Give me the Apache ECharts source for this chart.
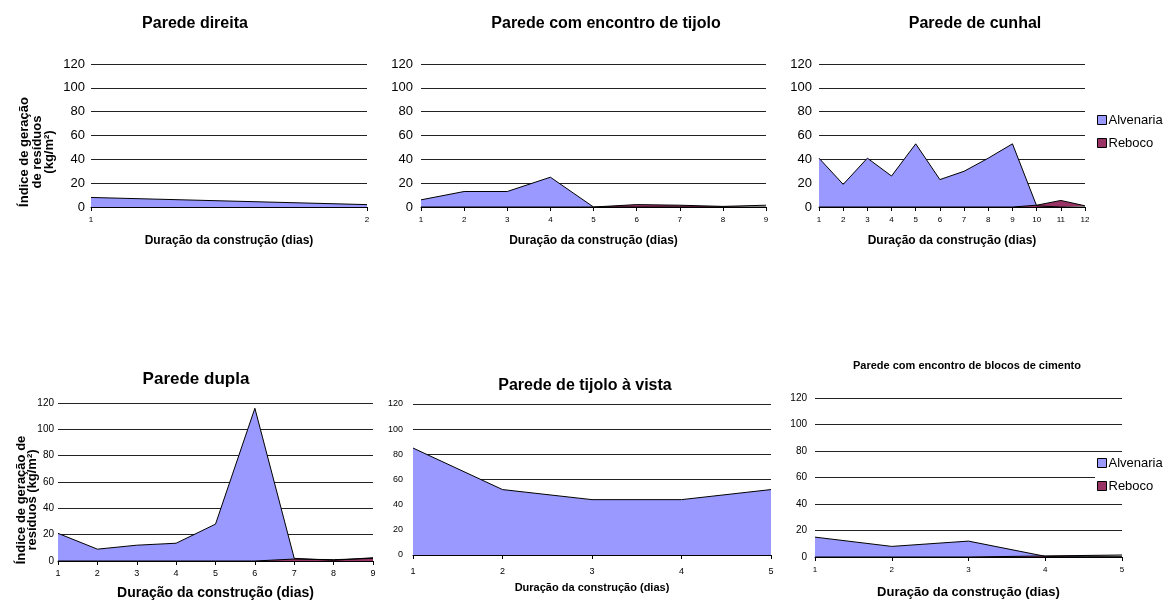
<!DOCTYPE html>
<html>
<head>
<meta charset="utf-8">
<script src="https://cdn.jsdelivr.net/npm/echarts@6/dist/echarts.min.js"></script>
<style>
  html, body { margin: 0; padding: 0; background: #fff; }
  #chart { width: 1170px; height: 603px; }
</style>
</head>
<body>
<div id="chart"></div>
<script>
// valores (kg/m2 por dia)
const diasDireita = ['1', '2'];
const alvDireita = [8, 2];

const diasTijolo = ['1', '2', '3', '4', '5', '6', '7', '8', '9'];
const alvTijolo = [6, 13, 13, 25, 0, 0, 0, 0, 0];
const rebTijolo = [0, 0, 0, 0, 0, 2, 1.5, 0.5, 1.5];

const diasCunhal = ['1', '2', '3', '4', '5', '6', '7', '8', '9', '10', '11', '12'];
const alvCunhal = [41, 19, 41, 26, 53, 23, 30, 41, 53, 1, 0, 0];
const rebCunhal = [0, 0, 0, 0, 0, 0, 0, 0, 0, 1.5, 5.5, 1];

const diasDupla = ['1', '2', '3', '4', '5', '6', '7', '8', '9'];
const alvDupla = [21, 9, 12, 13.5, 28, 116, 2, 0.5, 2.5];
const rebDupla = [0, 0, 0, 0, 0, 0, 1.5, 1, 2];

const diasVista = ['1', '2', '3', '4', '5'];
const alvVista = [85, 52, 44, 44, 52];

const diasBlocos = ['1', '2', '3', '4', '5'];
const alvBlocos = [15, 8, 12, 0.5, 0.5];
const rebBlocos = [0, 0, 0, 0.8, 1.5];

const nomesSeries = ['Alvenaria', 'Reboco'];
const eixoX = 'Duração da construção (dias)';

const FONT = 'Liberation Sans, Arial, sans-serif';
const corAlv = '#9999FF';
const corReb = '#993366';

const panels = [
  { title: 'Parede direita', tx: 190, ty: 11, tSize: 16,
    grid: { left: 91, top: 64, width: 276, height: 143 },
    yFont: 13, yMargin: 6, xFont: 8, xMargin: 9, nSize: 12, nGap: 28,
    cats: diasDireita, alv: alvDireita, reb: null },
  { title: 'Parede com encontro de tijolo', tx: 601, ty: 11, tSize: 16,
    grid: { left: 421, top: 64, width: 345, height: 143 },
    yFont: 13, yMargin: 8, xFont: 8, xMargin: 9, nSize: 12, nGap: 28,
    cats: diasTijolo, alv: alvTijolo, reb: rebTijolo },
  { title: 'Parede de cunhal', tx: 970, ty: 11, tSize: 16,
    grid: { left: 819, top: 64, width: 266, height: 143 },
    yFont: 13, yMargin: 7, xFont: 8, xMargin: 9, nSize: 12, nGap: 28,
    cats: diasCunhal, alv: alvCunhal, reb: rebCunhal },
  { title: 'Parede dupla', tx: 191, ty: 366, tSize: 17,
    grid: { left: 58, top: 403, width: 315, height: 158 },
    yFont: 10, yMargin: 4, xFont: 9, xMargin: 8, nSize: 14, nGap: 25,
    cats: diasDupla, alv: alvDupla, reb: rebDupla },
  { title: 'Parede de tijolo à vista', tx: 580, ty: 373, tSize: 16,
    grid: { left: 413, top: 404, width: 358, height: 151 },
    yFont: 9, yMargin: 10, xFont: 9, xMargin: 12, nSize: 11, nGap: 27,
    cats: diasVista, alv: alvVista, reb: null },
  { title: 'Parede com encontro de blocos de cimento', tx: 962, ty: 355, tSize: 11,
    grid: { left: 815, top: 398, width: 307, height: 159 },
    yFont: 10, yMargin: 8, xFont: 8, xMargin: 9, nSize: 13, nGap: 29,
    cats: diasBlocos, alv: alvBlocos, reb: rebBlocos }
];

const title = [], grid = [], xAxis = [], yAxis = [], series = [];
panels.forEach((p, i) => {
  title.push({
    text: p.title, left: p.tx, top: p.ty, textAlign: 'center',
    textStyle: { fontFamily: FONT, fontSize: p.tSize, fontWeight: 'bold', color: '#000' }
  });
  grid.push(p.grid);
  xAxis.push({
    gridIndex: i, type: 'category', data: p.cats, boundaryGap: false,
    name: eixoX, nameLocation: 'middle', nameGap: p.nGap,
    nameTextStyle: { fontFamily: FONT, fontSize: p.nSize, fontWeight: 'bold', color: '#000' },
    axisLine: { lineStyle: { color: '#000', width: 1 } },
    axisTick: { length: 4, lineStyle: { color: '#000' } },
    axisLabel: { fontFamily: FONT, fontSize: p.xFont, color: '#000', margin: p.xMargin },
    splitLine: { show: false }
  });
  yAxis.push({
    gridIndex: i, type: 'value', min: 0, max: 120, interval: 20,
    axisLine: { show: false }, axisTick: { show: false },
    axisLabel: { fontFamily: FONT, fontSize: p.yFont, color: '#000', margin: p.yMargin },
    splitLine: { lineStyle: { color: '#222', width: 1 } }
  });
  series.push({
    name: nomesSeries[0], type: 'line', xAxisIndex: i, yAxisIndex: i,
    data: p.alv, symbol: 'none', silent: true,
    itemStyle: { color: corAlv },
    lineStyle: { color: '#000', width: 1 },
    areaStyle: { color: corAlv, opacity: 1 }
  });
  if (p.reb) {
    series.push({
      name: nomesSeries[1], type: 'line', xAxisIndex: i, yAxisIndex: i,
      data: p.reb, symbol: 'none', silent: true,
      itemStyle: { color: corReb },
      lineStyle: { color: '#000', width: 1 },
      areaStyle: { color: corReb, opacity: 1 }
    });
  }
});

const legendBase = {
  data: nomesSeries, orient: 'vertical', icon: 'rect', selectedMode: false,
  itemWidth: 9, itemHeight: 9, itemGap: 9, padding: [2, 3, 2, 2],
  backgroundColor: '#fff',
  itemStyle: { borderColor: '#000', borderWidth: 1 },
  textStyle: { fontFamily: FONT, fontSize: 13, color: '#000', lineHeight: 14, padding: [0, 0, 0, -3] }
};

const option = {
  backgroundColor: '#fff',
  animation: false,
  title: title,
  grid: grid,
  xAxis: xAxis,
  yAxis: yAxis,
  series: series,
  legend: [
    Object.assign({}, legendBase, { left: 1095, top: 111 }),
    Object.assign({}, legendBase, { left: 1095, top: 454 })
  ],
  graphic: [
    { type: 'text', x: 37, y: 152, rotation: Math.PI / 2,
      style: { text: 'Índice de geração\nde resíduos\n(kg/m²)', textAlign: 'center', textVerticalAlign: 'middle',
        font: 'bold 13px ' + FONT, lineHeight: 12.5, fill: '#000' } },
    { type: 'text', x: 27, y: 500, rotation: Math.PI / 2,
      style: { text: 'Índice de geração de\nresíduos (kg/m²)', textAlign: 'center', textVerticalAlign: 'middle',
        font: 'bold 13px ' + FONT, lineHeight: 11.5, fill: '#000' } }
  ]
};

const myChart = echarts.init(document.getElementById('chart'));
myChart.setOption(option);
window.addEventListener('resize', function () {
  myChart.resize();
});
</script>
</body>
</html>
